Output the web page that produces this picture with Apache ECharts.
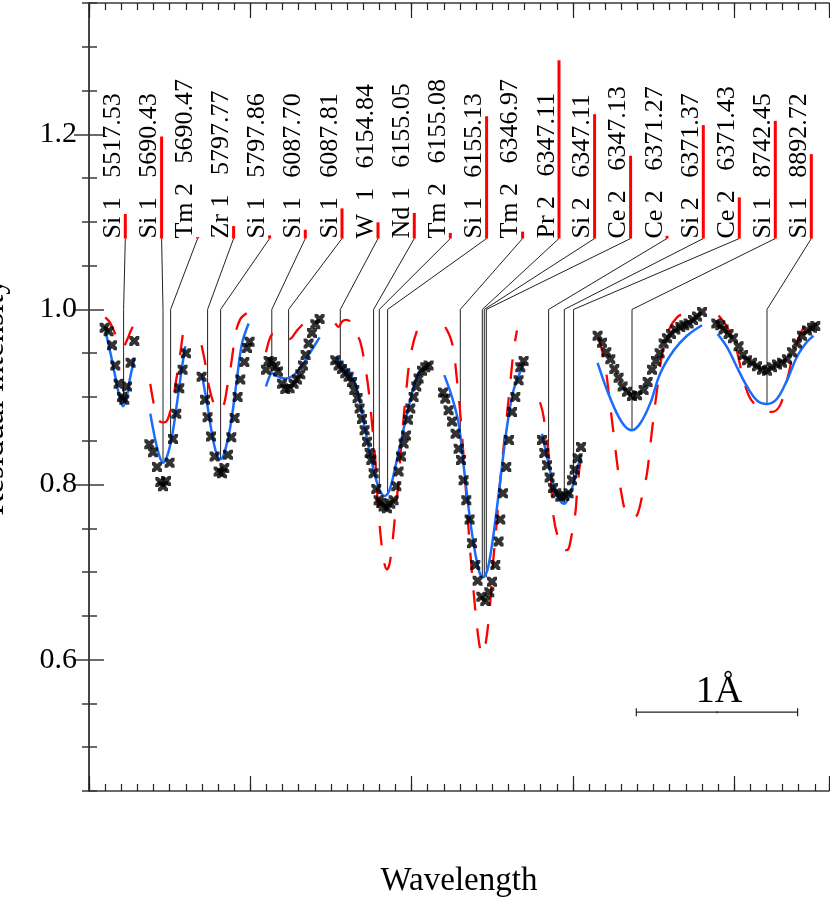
<!DOCTYPE html>
<html>
<head>
<meta charset="utf-8">
<title>Residual intensity</title>
<script src="https://cdn.jsdelivr.net/npm/echarts@6/dist/echarts.min.js"></script>
<style>
  html, body { margin: 0; padding: 0; background: #fff; }
  #chart { width: 830px; height: 901px; }
</style>
</head>
<body>
<div id="chart"></div>
<script>
// x is a relative wavelength offset (1 A = 161.3 units), y is residual intensity
const observed = [
  [[15.6, .979], [19.6, .975], [23, .959], [26.3, .936], [29.6, .915], [33, .900], [35.3, .897], [38, .912], [41.6, .939], [45.3, .964]],
  [[60.3, .846], [64, .837], [68, .820], [71.3, .803], [74, .798], [77, .804], [80.6, .825], [84, .852], [87.3, .881], [90.3, .910], [93.6, .931], [97, .950]],
  [[112.6, .923], [116, .897], [118.6, .877], [122, .855], [125.6, .832], [129.6, .815], [133, .813], [135.3, .819], [139, .834], [142.3, .854], [145.6, .876], [148.6, .900], [151.3, .920], [155.3, .940], [158, .956], [160.6, .963]],
  [[177, .931], [179.6, .941], [183, .940], [186.3, .935], [189, .929], [193, .915], [196.3, .909], [200.6, .910], [204.6, .915], [208, .920], [211.3, .926], [214, .936], [216.6, .948], [219.6, .961], [223, .973], [226.3, .983], [230.6, .989]],
  [[246.3, .942], [249.6, .936], [253, .932], [256.3, .927], [259.6, .923], [263, .917], [265.3, .908], [268.6, .899], [270.6, .887], [273, .875], [275.6, .862], [278, .849], [280.6, .836], [282.3, .828], [284.6, .813], [287.3, .795], [289.6, .782], [292.3, .779], [294.6, .775], [298, .773], [301.3, .778], [304.6, .782], [307.3, .798], [309.6, .815], [312, .832], [314.6, .847], [317, .856], [319, .874], [321.3, .887], [324.6, .900], [327.3, .912], [329.6, .921], [333, .930], [336.3, .934], [339.6, .936]],
  [[354, .905], [356.3, .898], [359.6, .885], [363, .872], [366.6, .858], [369.6, .841], [372, .828], [374.6, .805], [377.3, .782], [380.6, .760], [383, .733], [386.3, .708], [388.6, .690], [392.3, .672], [396.3, .667], [400.3, .677], [403, .689], [406.3, .708], [409.6, .735], [411.3, .760], [414, .790], [417.3, .820], [420, .851], [423, .883], [426.3, .900], [429.6, .919], [431.3, .934], [434.6, .941]],
  [[453, .851], [455.3, .836], [458, .822], [460.6, .808], [464, .796], [467.3, .790], [471.3, .786], [475.3, .787], [479.6, .790], [483, .805], [485.6, .817], [488.6, .830], [492, .843]],
  [[508.6, .970], [513, .962], [517.3, .951], [521.3, .943], [525.3, .932], [529.6, .922], [533.6, .912], [538, .906], [543, .901], [548, .902], [554.6, .908], [558.6, .917], [563, .931], [567, .941], [570.6, .950], [574.6, .961], [578, .967], [582, .972], [586.3, .977], [591.3, .980], [595.3, .982], [599.6, .984], [604, .988], [608, .992], [613, .997]],
  [[627.3, .984], [631.3, .982], [634.6, .977], [639.6, .972], [644, .967], [649.6, .958], [654, .948], [658, .942], [663, .939], [668, .935], [673, .931], [678, .930], [683, .934], [688, .937], [693, .939], [698, .943], [703, .951], [708, .961], [713, .970], [718, .976], [723, .979], [726.3, .981]]
]

// blue solid model
const fitModel = [
  [[16.3, .976], [21.3, .951], [26.3, .923], [30.6, .900], [34, .8895], [37.3, .898], [41.3, .923], [45.6, .945]],
  [[61.3, .881], [66.3, .851], [70.6, .832], [74, .825], [78, .832], [83, .855], [88, .893], [93, .934], [96.3, .958]],
  [[112.6, .927], [118, .893], [123, .858], [127.3, .836], [131.3, .829], [135.3, .836], [141.3, .866], [147.3, .915], [153, .961], [159.6, .984]],
  [[177, .912], [180, .922], [183, .927], [188, .924], [196.3, .921], [204.6, .925], [213, .936], [221.3, .951], [230.6, .968]],
  [[246.3, .946], [258, .931], [266.3, .915], [273, .881], [279.6, .843], [286.3, .809], [291.3, .792], [295.6, .787], [300.6, .794], [306.3, .820], [313, .855], [321.3, .896], [329.6, .927], [339.6, .936]],
  [[355.3, .925], [363, .900], [369.6, .870], [376.3, .805], [383, .744], [389.6, .703], [394, .694], [398.6, .703], [404.6, .744], [411.3, .805], [418, .866], [424.6, .908], [434, .936]],
  [[453, .858], [458, .832], [464.6, .798], [469.6, .784], [475.3, .778], [481.3, .790], [486.3, .809], [492, .834]],
  [[508.6, .939], [518, .908], [528, .881], [536.3, .866], [543, .862], [551.3, .870], [561.3, .893], [571.3, .927], [584.6, .953], [598, .970], [613, .982]],
  [[628.6, .972], [638, .957], [648, .934], [658, .912], [668, .896], [678, .892], [688, .898], [698, .919], [708, .946], [718, .963], [724.6, .970]]
]

// red dashed model
const synthModel = [
  [[16.3, .991], [21, .985], [26.3, .972], [30, .962], [34, .957], [38, .965], [41.6, .975], [45.3, .984]],
  [[61.3, .915], [64.6, .893], [68, .878], [71, .872], [75, .871], [78, .873], [80.6, .881], [84, .897], [87, .918], [90.3, .942], [94, .973]],
  [[112.6, .959], [116.3, .938], [120, .912], [124.6, .893], [129, .885], [132, .886], [135.3, .893], [138, .910], [141.3, .931], [144, .953], [146.3, .972], [151.3, .989], [158, .996]],
  [[177, .951], [180.6, .966], [184, .972], [188, .972], [192, .969], [196, .966], [200, .966], [203, .968], [208, .976], [214.6, .984]],
  [[246.3, .984], [249.6, .980], [253, .986], [257, .988], [261.3, .986], [266, .975], [271.3, .963], [276.3, .934], [279.6, .908], [283, .870], [286.3, .828], [289.6, .767], [294.6, .714], [298, .703], [301.3, .714], [306.3, .767], [309.6, .805], [313, .855], [317.3, .908], [321.3, .946], [328, .976], [334.6, .989]],
  [[356.3, .980], [361.3, .968], [364.6, .953], [368, .919], [371.3, .881], [374.6, .832], [378, .775], [381.3, .722], [386.3, .657], [390, .620], [393, .606], [396.3, .616], [400.6, .657], [404, .710], [408, .760], [411.3, .805], [416.3, .862], [420.6, .908], [424.6, .953], [428, .976]],
  [[451, .894], [454, .881], [458, .850], [461.3, .817], [464.6, .763], [469.6, .737], [474, .726], [478, .725], [483, .744], [486.3, .767], [488, .790], [490.6, .820], [493, .836]],
  [[509.6, .968], [513, .953], [517.3, .927], [521.3, .889], [524.6, .858], [528.6, .820], [533, .786], [537.3, .767], [543, .762], [548, .765], [553, .786], [558, .813], [563, .862], [568, .908], [573, .948], [579.6, .976], [588, .991], [598, .997]],
  [[629.6, .993], [638, .980], [646.3, .959], [653, .927], [659.6, .902], [666.3, .891], [675, .884], [683, .883], [691.3, .891], [698, .919], [704.6, .950], [711.3, .972], [718, .986]]
]

// line identifications
const lineLabels = ['Si 1   5517.53', 'Si 1   5690.43', 'Tm 2   5690.47', 'Zr 1   5797.77', 'Si 1   5797.86',
  'Si 1   6087.70', 'Si 1   6087.81', 'W  1   6154.84', 'Nd 1   6155.05', 'Tm 2   6155.08', 'Si 1   6155.13',
  'Tm 2   6346.97', 'Pr 2   6347.11', 'Si 2   6347.11', 'Ce 2   6347.13', 'Ce 2   6371.27', 'Si 2   6371.37',
  'Ce 2   6371.43', 'Si 1   8742.45', 'Si 1   8892.72']
const labelX = [36.3, 72.6, 108.6, 144.6, 180.6, 216.3, 253, 289, 325.3, 361.3, 397.6, 433.6, 470, 505.6, 541.6, 578, 614.3, 650.3, 686.3, 722.3]
const lineX = [34.6, 74, 81.6, 118.6, 131.6, 182.8, 199.6, 251.3, 284.6, 290.3, 298.6, 371.3, 393.3, 395.3, 397.3, 459.6, 475.3, 484.6, 543, 678]
const lineEnd = [.8925, .825, .846, .89, .829, .927, .922, .94, .818, .795, .789, .86, .694, .694, .694, .825, .778, .80, .862, .892]
const lineStrength = [1.109, 1.1975, 1.0826, 1.0952, 1.0846, 1.0911, 1.1154, 1.0995, 1.1102, 1.0874, 1.2207, 1.0889, 1.2846, 1.223, 1.1755, 1.084, 1.2105, 1.128, 1.2154, 1.1774]
const labelBase = 1.081
const kneeY = 1.0

// 1 A scale bar
const scaleBar = [[547.3, 708.6, 0.54]]

const chart = echarts.init(document.getElementById('chart'))
const serif = '"Liberation Serif", "Times New Roman", serif'
const axisColor = '#3a3a3a'
const starPath = 'path://M0,0H3L5,2L7,0H10V3L8,5L10,7V10H7L5,8L3,10H0V7L2,5L0,3Z'

const series = []

series.push({
  type: 'custom',
  z: 1,
  silent: true,
  data: labelX.map((x, i) => [x, lineX[i], lineEnd[i], lineStrength[i]]),
  encode: { x: [0, 1], y: [2, 3] },
  renderItem: function(params, api) {
    const i = params.dataIndex
    const pLabel = api.coord([api.value(0), labelBase])
    const pKnee = api.coord([api.value(1), kneeY])
    const pEnd = api.coord([api.value(1), api.value(2)])
    const pTop = api.coord([api.value(0), api.value(3)])
    return {
      type: 'group',
      children: [
        {
          type: 'polyline',
          shape: { points: [pLabel, pKnee, pEnd] },
          style: { stroke: '#222', lineWidth: 1, fill: null }
        },
        {
          type: 'rect',
          shape: { x: pLabel[0] - 1.5, y: pTop[1], width: 3, height: pLabel[1] - pTop[1] },
          style: { fill: '#ff0000' }
        },
        {
          type: 'text',
          x: pLabel[0] - 12,
          y: pLabel[1],
          rotation: Math.PI / 2,
          style: { text: lineLabels[i], font: '26px ' + serif, fill: '#000', align: 'left', verticalAlign: 'middle' }
        }
      ]
    }
  }
})

synthModel.forEach(seg => {
  series.push({
    type: 'line', data: seg, smooth: 0.35, symbol: 'none', z: 2,
    lineStyle: { color: '#ff0000', width: 2.3, type: [20, 18] }
  })
})
fitModel.forEach(seg => {
  series.push({
    type: 'line', data: seg, smooth: 0.35, symbol: 'none', z: 3,
    lineStyle: { color: '#1a6cff', width: 2.5 }
  })
})
observed.forEach(seg => {
  series.push({
    type: 'scatter', data: seg, symbol: starPath, symbolSize: 10, z: 4,
    itemStyle: { color: '#000' }
  })
})

// scale bar
series.push({
  type: 'custom',
  z: 5,
  silent: true,
  data: scaleBar,
  encode: { x: [0, 1], y: 2 },
  renderItem: function(params, api) {
    const a = api.coord([api.value(0), api.value(2)])
    const b = api.coord([api.value(1), api.value(2)])
    const mid = (a[0] + b[0]) / 2
    return {
      type: 'group',
      children: [
        { type: 'line', shape: { x1: a[0], y1: a[1], x2: b[0], y2: b[1] }, style: { stroke: '#222', lineWidth: 1.2 } },
        { type: 'line', shape: { x1: a[0], y1: a[1] - 4, x2: a[0], y2: a[1] + 4 }, style: { stroke: '#222', lineWidth: 1.2 } },
        { type: 'line', shape: { x1: b[0], y1: b[1] - 4, x2: b[0], y2: b[1] + 4 }, style: { stroke: '#222', lineWidth: 1.2 } },
        { type: 'line', shape: { x1: mid, y1: a[1] - 1, x2: mid, y2: a[1] + 1 }, style: { stroke: '#222', lineWidth: 1.2 } },
        { type: 'text', x: mid + 2, y: a[1] - 1, style: { text: '1Å', font: '38px ' + serif, fill: '#000', align: 'center', verticalAlign: 'bottom' } }
      ]
    }
  }
})

const xBase = { type: 'value', min: 0, max: 740, splitLine: { show: false }, axisLabel: { show: false } }
const yBase = { type: 'value', min: 0.45, max: 1.35, splitLine: { show: false } }
const majorY = [0.6, 0.8, 1.0, 1.2]

chart.setOption({
  animation: false,
  backgroundColor: '#fff',
  grid: { left: 89, top: 3, width: 740, height: 788, containLabel: false, outerBoundsMode: 'none' },
  xAxis: [
    Object.assign({}, xBase, {
      position: 'bottom', interval: 161.3,
      axisLine: { lineStyle: { color: axisColor, width: 1.5 } },
      axisTick: { inside: true, length: 15, lineStyle: { color: '#222', width: 1.2 } },
      name: 'Wavelength', nameLocation: 'middle', nameGap: 74,
      nameTextStyle: { fontFamily: serif, fontSize: 33, color: '#000' }
    }),
    Object.assign({}, xBase, {
      position: 'bottom', interval: 16.13,
      axisLine: { show: false },
      axisTick: { inside: true, length: 7, lineStyle: { color: '#222', width: 1.2 } }
    }),
    Object.assign({}, xBase, {
      position: 'top', interval: 161.3,
      axisLine: { lineStyle: { color: axisColor, width: 1.5 } },
      axisTick: { inside: true, length: 15, lineStyle: { color: '#222', width: 1.2 } }
    }),
    Object.assign({}, xBase, {
      position: 'top', interval: 16.13,
      axisLine: { show: false },
      axisTick: { inside: true, length: 7, lineStyle: { color: '#222', width: 1.2 } }
    })
  ],
  yAxis: [
    Object.assign({}, yBase, {
      position: 'left',
      axisLine: { show: true, lineStyle: { color: axisColor, width: 1.5 } },
      axisTick: { inside: true, length: 15, customValues: majorY, lineStyle: { color: axisColor, width: 1.5 } },
      axisLabel: {
        customValues: majorY, margin: 12, fontFamily: serif, fontSize: 30, color: '#000',
        formatter: v => v.toFixed(1)
      },
      name: 'Residual intensity', nameLocation: 'middle', nameRotate: 90, nameGap: 78,
      nameTextStyle: { fontFamily: serif, fontSize: 33, color: '#000' }
    }),
    Object.assign({}, yBase, {
      position: 'left', interval: 0.05,
      axisLine: { show: false },
      axisTick: { inside: true, length: 8, lineStyle: { color: axisColor, width: 1.5 } },
      axisLabel: { show: false }
    }),
    Object.assign({}, yBase, {
      position: 'right',
      axisLine: { show: true, lineStyle: { color: axisColor, width: 1.5 } },
      axisTick: { inside: true, length: 15, customValues: majorY, lineStyle: { color: axisColor, width: 1.5 } },
      axisLabel: { show: false }
    }),
    Object.assign({}, yBase, {
      position: 'right', interval: 0.05,
      axisLine: { show: false },
      axisTick: { inside: true, length: 7, lineStyle: { color: axisColor, width: 1.5 } },
      axisLabel: { show: false }
    })
  ],
  series: series
})
</script>
</body>
</html>
